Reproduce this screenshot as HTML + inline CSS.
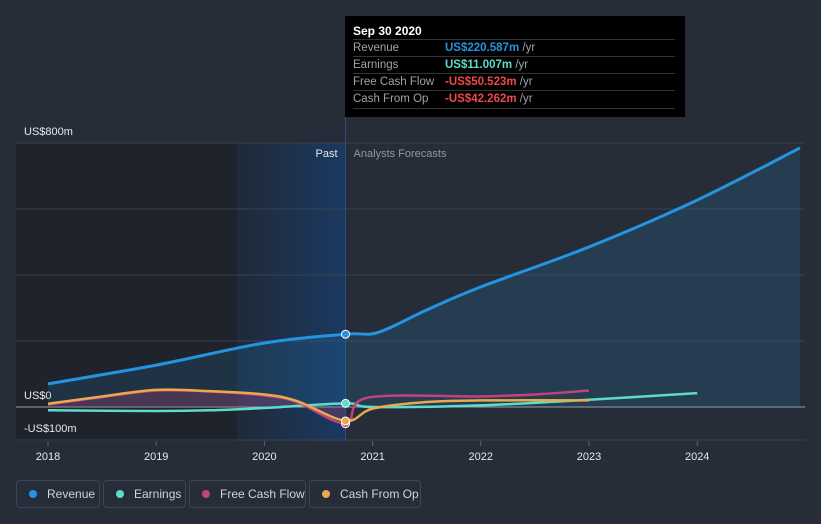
<!DOCTYPE html>
<html><head><meta charset="utf-8"><style>
body{margin:0;background:#262d39;font-family:"Liberation Sans",sans-serif;}
#wrap{position:relative;width:821px;height:524px;overflow:hidden;background:#262d39}
svg{position:absolute;left:0;top:0}
.leg{position:absolute;top:480px;height:28px;border:1px solid #3e4654;border-radius:4px;color:#d0d3d8;font-size:12px;display:flex;align-items:center;box-sizing:border-box;padding:0 12px;white-space:nowrap}
.leg i{flex-shrink:0;width:8px;height:8px;border-radius:50%;display:inline-block;margin-right:10px}
#tip{position:absolute;left:345px;top:16px;width:340px;height:101px;background:#000;font-size:11.5px;color:#9ca3ad}
#tip .r{position:absolute;left:8px;width:322px;border-top:1px solid #333;height:17px;line-height:17px}
#tip .r b{position:absolute;left:92px;font-weight:bold}
</style></head><body>
<div id="wrap">
<svg id="s" width="821" height="524"></svg>
<div id="tip">
<div style="position:absolute;left:8px;top:8px;color:#fff;font-weight:bold;font-size:12px">Sep 30 2020</div>
<div class="r" style="top:23px">Revenue<b style="color:#2394df">US$220.587m <span style="color:#9ca3ad;font-weight:normal">/yr</span></b></div>
<div class="r" style="top:40px">Earnings<b style="color:#5fdcc8">US$11.007m <span style="color:#9ca3ad;font-weight:normal">/yr</span></b></div>
<div class="r" style="top:57px">Free Cash Flow<b style="color:#f0484a">-US$50.523m <span style="color:#9ca3ad;font-weight:normal">/yr</span></b></div>
<div class="r" style="top:74px;border-bottom:1px solid #333">Cash From Op<b style="color:#f0484a">-US$42.262m <span style="color:#9ca3ad;font-weight:normal">/yr</span></b></div>
</div>
<div class="leg" style="left:16px;width:84px"><i style="background:#2394df"></i>Revenue</div>
<div class="leg" style="left:103px;width:83px"><i style="background:#5fdcc8"></i>Earnings</div>
<div class="leg" style="left:189px;width:117px"><i style="background:#c2427f"></i>Free Cash Flow</div>
<div class="leg" style="left:309px;width:112px"><i style="background:#e9a94f"></i>Cash From Op</div>
</div>
<script>
const years=[2018,2019,2020,2021,2022,2023,2024];
const revT=[2018,2019,2020,2020.75,2021.05,2021.5,2022,2023,2024,2024.95];
const revV=[70,127,194,220.6,226,294,364,485,627,785];
const earT=[2018,2019,2019.5,2020,2020.75,2021,2022,2023,2024];
const earV=[-10,-12,-10,-3,11,0,5,22,42];
const fcfT=[2018,2018.5,2019,2019.5,2020,2020.3,2020.75,2020.95,2022,2022.5,2023];
const fcfV=[8,30,50,47,35,15,-50,28,32,38,50];
const cfoT=[2018,2018.5,2019,2019.5,2020,2020.3,2020.75,2021,2021.5,2022,2023];
const cfoV=[10,32,52,48,38,18,-42,-5,15,20,20];
const yTicks=[800,0,-100];
const X=t=>48+(t-2018)*108.2, Y=v=>407-v*0.33;
const s=document.getElementById('s'),NS='http://www.w3.org/2000/svg';
function el(tag,a,name){const e=document.createElementNS(NS,tag);for(const k in a)e.setAttribute(k,a[k]);


s.appendChild(e);return e;}
s.innerHTML='<defs><linearGradient id="pg" x1="0" x2="1"><stop offset="0" stop-color="#1e3a5f" stop-opacity="0.3"/><stop offset="1" stop-color="#1a3c68" stop-opacity="0.9"/></linearGradient></defs>';
el('rect',{x:16,y:143,width:X(2020.75)-16,height:298,fill:'#1f232b'},'past-region');
el('rect',{x:237,y:143,width:X(2020.75)-237,height:298,fill:'url(#pg)'},'past-highlight');
[800,600,400,200,0,-100].forEach(v=>el('line',{x1:16,x2:805,y1:Y(v),y2:Y(v),stroke:v==0?'#9aa0a8':'#3a414d','stroke-width':1},'gridline'));
el('line',{x1:X(2020.75),x2:X(2020.75),y1:16,y2:441,stroke:'#2d4f7a'},'today-line');
yTicks.forEach(v=>{const t=el('text',{x:24,y:Y(v)-8,fill:'#e6e8eb','font-size':11},'y-tick-label');t.textContent=v==0?'US$0':(v<0?'-':'')+'US$'+Math.abs(v)+'m';});
years.forEach(y=>{el('line',{x1:X(y),x2:X(y),y1:441,y2:446,stroke:'#5a616c'},'x-tick');const t=el('text',{x:X(y),y:460,fill:'#e6e8eb','font-size':11,'text-anchor':'middle'},'x-tick-label');t.textContent=y;});
let t=el('text',{x:X(2020.75)-8,y:157,fill:'#e6e8eb','font-size':11,'text-anchor':'end'},'past-label');t.textContent='Past';
t=el('text',{x:X(2020.75)+8,y:157,fill:'#8f96a0','font-size':11},'forecast-label');t.textContent='Analysts Forecasts';
function path(T,V){const p=T.map((t,i)=>[X(t),Y(V[i])]);let d='M'+p[0];for(let i=0;i<p.length-1;i++){const p0=p[i-1]||p[i],p1=p[i],p2=p[i+1],p3=p[i+2]||p2;
const c1=[p1[0]+(p2[0]-p0[0])/6,p1[1]+(p2[1]-p0[1])/6],c2=[p2[0]-(p3[0]-p1[0])/6,p2[1]-(p3[1]-p1[1])/6];d+='C'+c1+' '+c2+' '+p2;}return d;}
const rp=path(revT,revV);
el('path',{d:rp+`L${X(revT[revT.length-1])},${Y(0)}L${X(revT[0])},${Y(0)}Z`,fill:'#2394df','fill-opacity':0.15},'revenue-area');
el('path',{d:path(cfoT.slice(0,7),cfoV.slice(0,7))+`L${X(2020.75)},${Y(0)}L${X(2018)},${Y(0)}Z`,fill:'#c2427f','fill-opacity':0.25},'cash-area');
el('path',{d:rp,fill:'none',stroke:'#2394df','stroke-width':3},'revenue-line');
el('path',{d:path(earT,earV),fill:'none',stroke:'#5fdcc8','stroke-width':2.5},'earnings-line');
el('path',{d:path(fcfT,fcfV),fill:'none',stroke:'#c2427f','stroke-width':2.5},'fcf-line');
el('path',{d:path(cfoT,cfoV),fill:'none',stroke:'#e9a94f','stroke-width':2.5},'cfo-line');
[[220.6,'#2394df'],[11,'#5fdcc8'],[-50.5,'#c2427f'],[-42.3,'#e9a94f']].forEach(([v,c])=>el('circle',{cx:X(2020.75),cy:Y(v),r:4,fill:c,stroke:'#fff','stroke-width':1},'marker'));
</script>
</body></html>
